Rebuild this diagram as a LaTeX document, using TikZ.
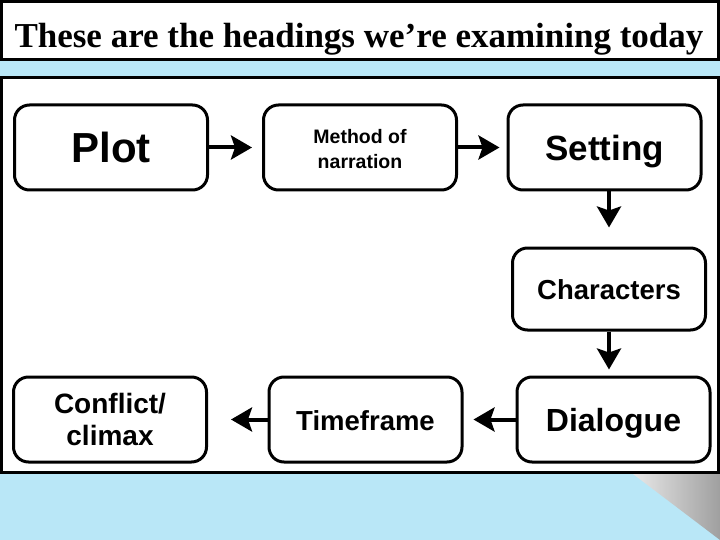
\documentclass[tikz,border=0pt]{standalone}
\usepackage{fontspec}
\setmainfont{Liberation Sans}
\newfontfamily\titlefont{Liberation Serif}
\usetikzlibrary{arrows.meta}
\definecolor{bgblue}{RGB}{185,231,247}
\tikzset{
  box/.style={draw=black, line width=3pt, fill=white, rounded corners=15pt,
    minimum width=193pt, minimum height=85pt, align=center, inner sep=0pt,
    font=\bfseries},
  arr/.style={line width=4pt, -{Stealth[length=21pt,width=24pt,inset=4pt]}},
  frame/.style={draw=black, line width=3pt, fill=white}
}
\newcommand{\fs}[2]{\fontsize{#1}{#2}\selectfont}
\begin{document}
\begin{tikzpicture}[x=1pt,y=-1pt]
\useasboundingbox (0,0) rectangle (720,540);
\fill[bgblue] (0,0) rectangle (720,540);
\shade[left color=gray!18, right color=gray!75] (633,474) -- (720,474) -- (720,540) -- cycle;
\draw[frame] (1.5,1.5) rectangle (718.5,59.5);
\node[anchor=base, font=\titlefont\bfseries\fs{35}{40}] (title) at (359,47.5) {These are the headings we’re examining today};
\draw[frame] (1.5,77.5) rectangle (718.5,472.5);

\node[box, font=\bfseries\fs{42}{48}] (plot) at (111,147.5) {Plot};
\node[box, font=\bfseries\fs{19.5}{25}] (method) at (360,147.5) {\rule{0pt}{17pt}Method of\\narration};
\node[box, font=\bfseries\fs{35}{40}, text depth=0pt] (setting) at (604.5,147.5) {Setting};
\node[box, font=\bfseries\fs{27.5}{32}, minimum height=82pt] (characters) at (609,289) {\rule{0pt}{22pt}Characters};
\node[box, font=\bfseries\fs{28}{32}] (conflict) at (110,419.5) {Conflict/\\climax};
\node[box, font=\bfseries\fs{27.5}{32}, text depth=0pt] (timeframe) at (365.5,419.5) {\rule{0pt}{22pt}Timeframe};
\node[box, font=\bfseries\fs{32}{36}, text depth=0pt] (dialogue) at (613.5,419.5) {Dialogue};

\draw[arr, shorten >=10pt] (plot.east) -- (method.west);
\draw[arr, shorten >=7pt] (method.east) -- (setting.west);
\draw[arr, shorten >=19pt] (setting.south -| characters) -- (characters.north);
\draw[arr, shorten >=6pt] (characters.south) -- (characters.south |- dialogue.north);
\draw[arr, shorten >=10pt] (dialogue.west) -- (timeframe.east);
\draw[arr, shorten >=23pt] (timeframe.west) -- (conflict.east);
\end{tikzpicture}
\end{document}
